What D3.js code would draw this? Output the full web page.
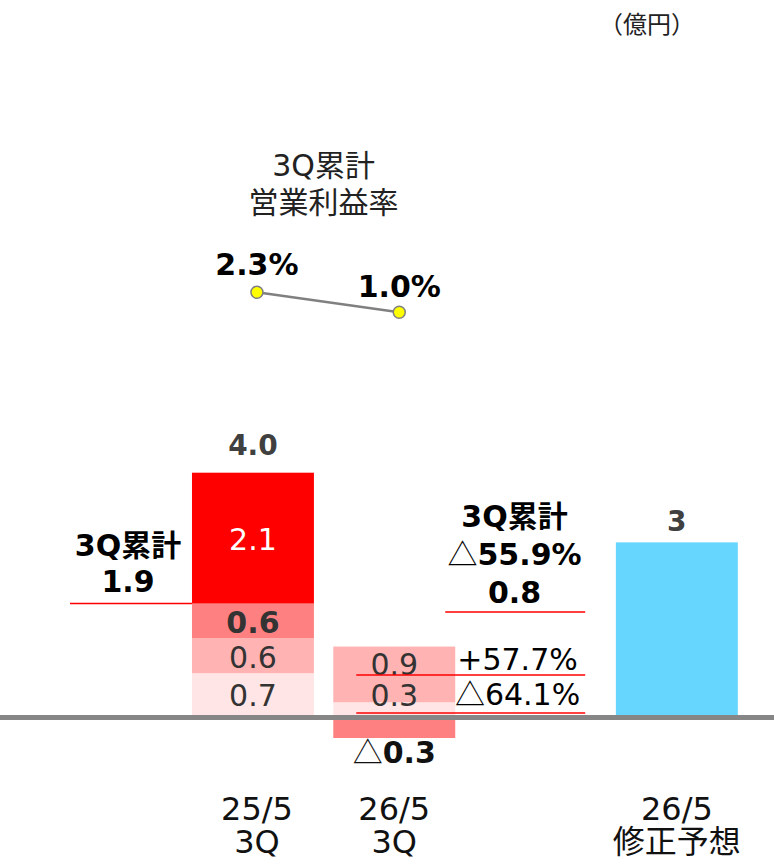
<!DOCTYPE html>
<html>
<head>
<meta charset="utf-8">
<script src="https://cdn.jsdelivr.net/npm/d3@7"></script>
<style>
  body { margin: 0; background: #fff; }
  svg { display: block; }
</style>
</head>
<body>
<div id="chart"></div>
<script>
// x slots: the third one is an empty gap that holds the notes
const slots = ['25/5 3Q', '26/5 3Q', 'note', '26/5 forecast'];
const slotLabels = [['25/5', '3Q'], ['26/5', '3Q'], [], ['26/5', '修正予想']];

const quarterKeys = ['q1', 'q2', 'q3', 'q4'];
const quarterColors = ['#ffe5e5', '#ffb3b3', '#ff8080', '#ff0000'];

// values in 億円
const prevQuarters = [0.69, 0.58, 0.57, 2.16];
const prevQuarterLabels = ['0.7', '0.6', '0.6', '2.1'];
const prevTotalLabel = '4.0';
const curQuarters = [0.21, 0.92, -0.38];
const curQuarterLabels = ['0.3', '0.9', '0.3'];
const forecastValue = 2.85;
const forecastLabel = '3';

const prevCumLabel = '1.9';
const curCumLabel = '0.8';
const cumChangeLabel = '55.9%';
const quarterChangeLabels = ['△64.1%', '+57.7%'];

// 3Q累計 営業利益率 (%)
const marginRates = [2.3, 1.0];
const marginLabels = ['2.3%', '1.0%'];

const NUM = "'DejaVu Sans', 'Noto Sans CJK JP', sans-serif";
const JP = "'Noto Sans CJK JP', sans-serif";

const W = 774, H = 865;
const svg = d3.select('#chart').append('svg')
    .attr('width', W)
    .attr('height', H);

const x = d3.scaleBand()
    .domain(slots)
    .range([182.3, 747.5])
    .paddingInner(0.137)
    .paddingOuter(0.0685);
const bw = x.bandwidth();
const cx = s => x(s) + bw / 2;

const y = d3.scaleLinear().domain([0, 4]).range([715, 472.7]);

// stacked quarters, negatives go below zero
const rows = [
    { slot: slots[0], q1: prevQuarters[0], q2: prevQuarters[1], q3: prevQuarters[2], q4: prevQuarters[3] },
    { slot: slots[1], q1: curQuarters[0], q2: curQuarters[1], q3: curQuarters[2], q4: 0 }
];
const series = d3.stack().keys(quarterKeys).offset(d3.stackOffsetDiverging)(rows);

series.forEach((s, i) => {
    svg.append('g')
        .attr('fill', quarterColors[i])
        .selectAll('rect')
        .data(s.filter(d => d[1] !== d[0]))
        .join('rect')
        .attr('x', d => x(d.data.slot))
        .attr('width', bw)
        .attr('y', d => y(Math.max(d[0], d[1])))
        .attr('height', d => Math.abs(y(d[0]) - y(d[1])));
});

// forecast bar
svg.append('rect')
    .attr('x', x(slots[3]))
    .attr('width', bw)
    .attr('y', y(forecastValue))
    .attr('height', y(0) - y(forecastValue))
    .attr('fill', '#66d6ff');

// labels inside bars
const prevSeg = series.map(s => s[0]);
prevSeg.forEach((d, i) => {
    svg.append('text')
        .attr('x', cx(slots[0]))
        .attr('y', y((d[0] + d[1]) / 2) + 12)
        .attr('text-anchor', 'middle')
        .attr('font-family', NUM)
        .attr('font-size', 30)
        .attr('font-weight', i === 2 ? 'bold' : 'normal')
        .attr('fill', i === 3 ? '#fff' : '#333')
        .text(prevQuarterLabels[i]);
});

const curSeg = series.map(s => s[1]);
const curShift = [-3, 1];
[0, 1].forEach(i => {
    const d = curSeg[i];
    svg.append('text')
        .attr('x', cx(slots[1]))
        .attr('y', y((d[0] + d[1]) / 2) + curShift[i])
        .attr('text-anchor', 'middle')
        .attr('font-family', NUM)
        .attr('font-size', 30)
        .attr('fill', '#333')
        .text(curQuarterLabels[i]);
});

const negLabel = svg.append('text')
    .attr('x', cx(slots[1]))
    .attr('y', y(curSeg[2][0]) + 25)
    .attr('text-anchor', 'middle')
    .attr('font-family', NUM)
    .attr('font-size', 30)
    .attr('fill', '#111');
negLabel.append('tspan').attr('font-family', JP).text('△');
negLabel.append('tspan').attr('font-weight', 'bold').text(curQuarterLabels[2]);

// totals above bars
svg.append('text')
    .attr('x', cx(slots[0]))
    .attr('y', y(d3.sum(prevQuarters)) - 18)
    .attr('text-anchor', 'middle')
    .attr('font-family', NUM)
    .attr('font-size', 28)
    .attr('font-weight', 'bold')
    .attr('fill', '#404040')
    .text(prevTotalLabel);

svg.append('text')
    .attr('x', cx(slots[3]))
    .attr('y', y(forecastValue) - 11)
    .attr('text-anchor', 'middle')
    .attr('font-family', NUM)
    .attr('font-size', 28)
    .attr('font-weight', 'bold')
    .attr('fill', '#404040')
    .text(forecastLabel);

// zero line
svg.append('line')
    .attr('x1', 0).attr('x2', W)
    .attr('y1', y(0) + 2.5).attr('y2', y(0) + 2.5)
    .attr('stroke', '#868686')
    .attr('stroke-width', 5);

// left note: 3Q cumulative last year
const prevCum = d3.sum(prevQuarters.slice(0, 3));
const leftX = x(slots[0]) - 64;
svg.append('text')
    .attr('x', leftX).attr('y', 556)
    .attr('text-anchor', 'middle')
    .attr('font-family', NUM).attr('font-size', 30).attr('font-weight', 'bold')
    .attr('fill', '#000')
    .text('3Q累計');
svg.append('text')
    .attr('x', leftX).attr('y', 592)
    .attr('text-anchor', 'middle')
    .attr('font-family', NUM).attr('font-size', 30).attr('font-weight', 'bold')
    .attr('fill', '#000')
    .text(prevCumLabel);
svg.append('line')
    .attr('x1', 70).attr('x2', x(slots[0]))
    .attr('y1', y(prevCum)).attr('y2', y(prevCum))
    .attr('stroke', '#ff0000').attr('stroke-width', 1.5);

// right note: 3Q cumulative this year and quarter changes
const noteX = cx(slots[2]) - 21;
const barRight = x(slots[1]) + bw;
svg.append('text')
    .attr('x', noteX).attr('y', 527)
    .attr('text-anchor', 'middle')
    .attr('font-family', NUM).attr('font-size', 30).attr('font-weight', 'bold')
    .attr('fill', '#000')
    .text('3Q累計');
const chg = svg.append('text')
    .attr('x', noteX).attr('y', 565)
    .attr('text-anchor', 'middle')
    .attr('font-family', NUM).attr('font-size', 30)
    .attr('fill', '#000');
chg.append('tspan').attr('font-family', JP).text('△');
chg.append('tspan').attr('font-weight', 'bold').text(cumChangeLabel);
svg.append('text')
    .attr('x', noteX).attr('y', 603)
    .attr('text-anchor', 'middle')
    .attr('font-family', NUM).attr('font-size', 30).attr('font-weight', 'bold')
    .attr('fill', '#000')
    .text(curCumLabel);
svg.append('line')
    .attr('x1', barRight - 10).attr('x2', barRight + 130)
    .attr('y1', 612).attr('y2', 612)
    .attr('stroke', '#ff0000').attr('stroke-width', 1.5);

const changeY = [705, 670];
const underGap = [8, 5];
quarterChangeLabels.forEach((lab, i) => {
    const t = svg.append('text')
        .attr('x', noteX + 3).attr('y', changeY[i])
        .attr('text-anchor', 'middle')
        .attr('font-family', NUM).attr('font-size', 30)
        .attr('fill', '#000');
    if (lab.startsWith('△')) {
        t.append('tspan').attr('font-family', JP).text('△');
        t.append('tspan').text(lab.slice(1));
    } else {
        t.text(lab);
    }
    const ly = changeY[i] + underGap[i];
    svg.append('line')
        .attr('x1', x(slots[1]) + 23).attr('x2', barRight + 130)
        .attr('y1', ly).attr('y2', ly)
        .attr('stroke', '#ff0000').attr('stroke-width', 1.5);
});

// operating margin line
const ry = d3.scaleLinear().domain([1.0, 2.3]).range([312.3, 292.3]);
const pts = marginRates.map((v, i) => ({ x: cx(slots[i]) + 4 + i, y: ry(v), label: marginLabels[i] }));
const titleX = (cx(slots[0]) + cx(slots[1])) / 2;

svg.append('text')
    .attr('x', titleX).attr('y', 176)
    .attr('text-anchor', 'middle')
    .attr('font-family', NUM).attr('font-size', 30)
    .attr('fill', '#222')
    .text('3Q累計');
svg.append('text')
    .attr('x', titleX).attr('y', 213)
    .attr('text-anchor', 'middle')
    .attr('font-family', JP).attr('font-size', 30)
    .attr('fill', '#222')
    .text('営業利益率');

svg.append('path')
    .datum(pts)
    .attr('d', d3.line().x(d => d.x).y(d => d.y))
    .attr('fill', 'none')
    .attr('stroke', '#808080')
    .attr('stroke-width', 2.5);

svg.selectAll('circle.pt')
    .data(pts)
    .join('circle')
    .attr('class', 'pt')
    .attr('cx', d => d.x).attr('cy', d => d.y)
    .attr('r', 6)
    .attr('fill', '#ffff00')
    .attr('stroke', '#808080')
    .attr('stroke-width', 1.5);

svg.selectAll('text.rate')
    .data(pts)
    .join('text')
    .attr('class', 'rate')
    .attr('x', d => d.x)
    .attr('y', (d, i) => d.y - (i === 0 ? 17 : 15))
    .attr('text-anchor', 'middle')
    .attr('font-family', NUM).attr('font-size', 30).attr('font-weight', 'bold')
    .attr('fill', '#000')
    .text(d => d.label);

// category labels
slots.forEach((s, i) => {
    slotLabels[i].forEach((line, j) => {
        svg.append('text')
            .attr('x', cx(s) + (i === 0 ? 4 : 0))
            .attr('y', 820 + j * 33)
            .attr('text-anchor', 'middle')
            .attr('font-family', NUM)
            .attr('font-size', 32)
            .attr('fill', '#111')
            .text(line);
    });
});

// unit
svg.append('text')
    .attr('x', 647).attr('y', 33)
    .attr('text-anchor', 'middle')
    .attr('font-family', JP).attr('font-size', 24)
    .attr('fill', '#222')
    .text('（億円）');
</script>
</body>
</html>
